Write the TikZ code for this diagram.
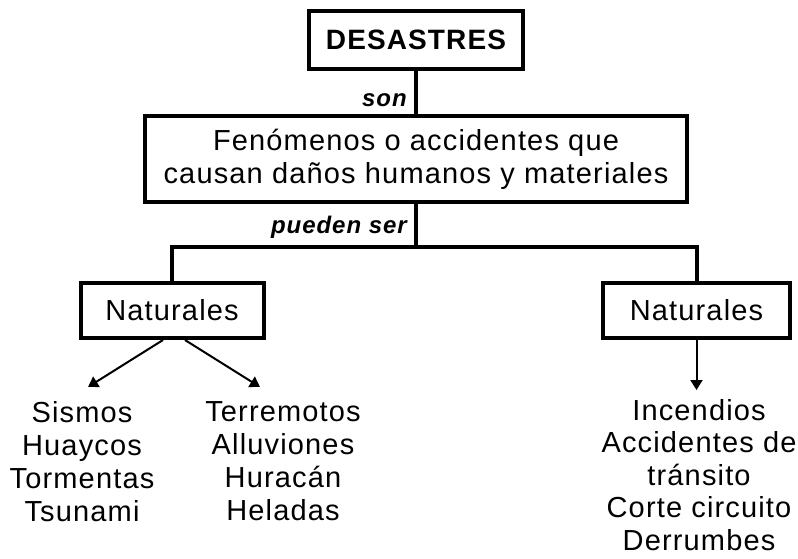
\documentclass[tikz,border=0pt]{standalone}
\usepackage{fontspec}
\setmainfont{Liberation Sans}[LetterSpace=4]
\usetikzlibrary{arrows.meta}

\begin{document}
\begin{tikzpicture}[x=1pt,y=-1pt,
    caja/.style={draw,line width=4pt,inner sep=0pt,font=\fontsize{29}{33}\selectfont},
    lista/.style={anchor=north,align=center,inner sep=0pt,font=\fontsize{29}{33}\selectfont},
    etiqueta/.style={anchor=base east,inner sep=0pt,font=\fontsize{24}{28}\selectfont\bfseries\itshape},
    rama/.style={line width=4pt},
    flecha/.style={line width=2pt,-{Triangle[length=10pt,width=12pt]}}]
  \useasboundingbox (0,0) rectangle (798,558);

  \node[caja,font=\fontsize{28}{33}\selectfont\bfseries,minimum width=214pt,minimum height=58pt] (desastres) at (416,40) {DESASTRES};
  \node[caja,align=center,minimum width=542pt,minimum height=86pt] (fenomenos) at (416,159) {Fenómenos o accidentes que\\causan daños humanos y materiales};
  \node[caja,minimum width=183pt,minimum height=55pt] (natA) at (172,310.5) {Naturales};
  \node[caja,minimum width=187pt,minimum height=55pt] (natB) at (696.5,310.5) {Naturales};

  \coordinate (split) at (416,247);
  \draw[rama] (desastres) -- (fenomenos);
  \draw[rama] (fenomenos) -- (split);
  \draw[rama] (natA.north) |- (split) -| (natB.north);

  \node[etiqueta] (son) at (407,106) {son};
  \node[etiqueta] (pueden) at (407,233) {pueden ser};

  \node[lista] (colA) at (82,401) {Sismos\\Huaycos\\Tormentas\\Tsunami};
  \node[lista] (colB) at (283,401) {Terremotos\\Alluviones\\Huracán\\Heladas};
  \node[lista,font=\fontsize{29}{32.5}\selectfont] (colC) at (699,399) {Incendios\\Accidentes de\\tránsito\\Corte circuito\\Derrumbes};

  \draw[flecha] ([xshift=-9pt]natA.south) -- ([xshift=6pt,yshift=14pt]colA.north);
  \draw[flecha] ([xshift=13pt]natA.south) -- ([xshift=-23pt,yshift=14pt]colB.north);
  \draw[flecha] (natB.south) -- ([yshift=9pt]natB.south |- colC.north);
\end{tikzpicture}
\end{document}
